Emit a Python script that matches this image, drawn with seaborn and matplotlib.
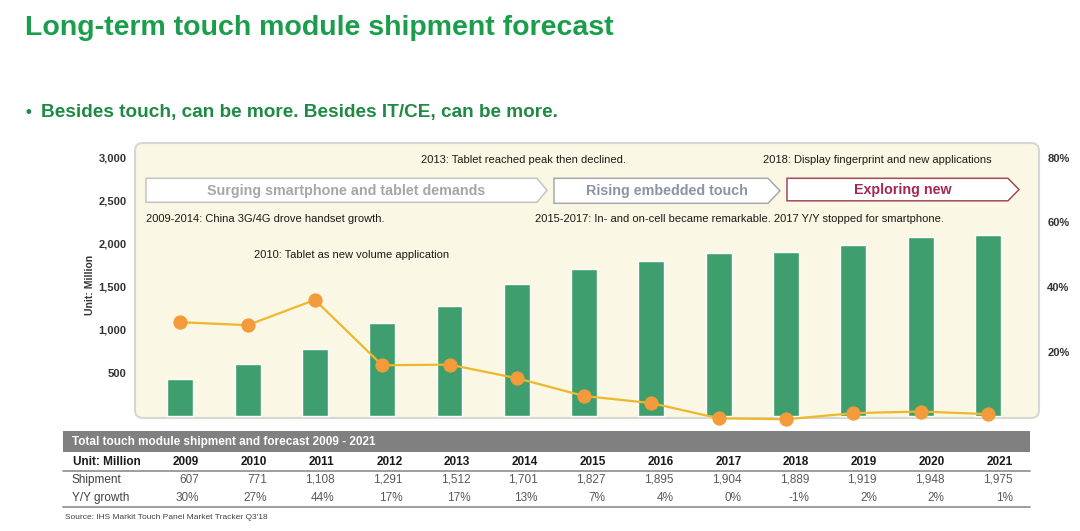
import matplotlib
matplotlib.use("Agg")
import matplotlib.pyplot as plt
from matplotlib.patches import FancyBboxPatch, Polygon, Rectangle
import seaborn as sns

sns.set_style("white")
plt.rcParams['font.family'] = ['Liberation Sans', 'DejaVu Sans']

# data
years = ['2009', '2010', '2011', '2012', '2013', '2014', '2015',
         '2016', '2017', '2018', '2019', '2020', '2021']
bar_values = [430, 601, 776, 1085, 1276, 1535, 1709, 1799, 1895, 1907, 1988, 2085, 2108]
yoy_line = [29.1, 28.2, 36.0, 15.8, 16.0, 11.8, 6.3, 4.1, -0.6, -0.9, 1.0, 1.5, 0.7]
table_shipment = [607, 771, 1108, 1291, 1512, 1701, 1827, 1895, 1904, 1889, 1919, 1948, 1975]
table_yoy = ['30%', '27%', '44%', '17%', '17%', '13%', '7%', '4%', '0%', '-1%', '2%', '2%', '1%']
left_ticks = [500, 1000, 1500, 2000, 2500, 3000]
right_ticks = [20, 40, 60, 80]

W, H = 1080, 531
fig = plt.figure(figsize=(10.8, 5.31), dpi=100)

# background layer in pixel coordinates
bg = fig.add_axes([0, 0, 1, 1])
bg.set_xlim(0, W)
bg.set_ylim(H, 0)
bg.axis('off')


def frac(x0, y0, x1, y1):
    return [x0 / W, 1 - y1 / H, (x1 - x0) / W, (y1 - y0) / H]


# titles
bg.text(25, 28, 'Long-term touch module shipment forecast', fontsize=20.5,
        fontweight='bold', color='#1A9E4B', va='center')
bg.text(26, 112, '\u2022', fontsize=12, fontweight='bold', color='#1E8A44', va='center')
bg.text(40.8, 112, 'Besides touch, can be more. Besides IT/CE, can be more.',
        fontsize=13.7, fontweight='bold', color='#1E8A44', va='center')

# chart panel
bg.add_patch(FancyBboxPatch((135, 143), 1039 - 135, 418 - 143,
                            boxstyle="round,pad=0,rounding_size=8",
                            fc='#FAF8E4', ec='#D6D6D2', lw=1.5))

# chevron phase boxes
chevrons = [
    (146, 537, 547, 178.3, 202.3, '#C4C4C4', 'Surging smartphone and tablet demands', '#A6A6A6'),
    (554, 768, 780, 178.3, 203.3, '#A8A8B0', 'Rising embedded touch', '#8C93A3'),
    (787, 1008, 1019, 178.3, 200.8, '#A04A5A', 'Exploring new', '#A3294F'),
]
for x0, x1, tip, y0, y1, ec, label, tc in chevrons:
    ym = (y0 + y1) / 2
    bg.add_patch(Polygon([(x0, y0), (x1, y0), (tip, ym), (x1, y1), (x0, y1)],
                         closed=True, fc='white', ec=ec, lw=1.1))
    bg.text((x0 + tip) / 2, ym + 0.5, label, fontsize=10.3, fontweight='bold',
            color=tc, ha='center', va='center')

notes = [
    (420.7, 160, '2013: Tablet reached peak then declined.'),
    (763.3, 160, '2018: Display fingerprint and new applications'),
    (146, 219, '2009-2014: China 3G/4G drove handset growth.'),
    (535, 219, '2015-2017: In- and on-cell became remarkable. 2017 Y/Y stopped for smartphone.'),
    (254.3, 255, '2010: Tablet as new volume application'),
]
for x, y, t in notes:
    bg.text(x, y, t, fontsize=8, color='#1A1A1A', va='center')

# bars and growth line
ax = fig.add_axes(frac(135, 143, 1039, 418))
ax.set_zorder(2)
ax.patch.set_visible(False)
sns.barplot(x=years, y=bar_values, color='#3E9E6E', saturation=1, width=0.386, ax=ax)
ax.set_xlim(-0.673, 12.759)
ax.set_ylim(-23, 3171)
ax.set_xticks([])
ax.set_yticks(left_ticks)
ax.set_yticklabels([f'{v:,}' for v in left_ticks], fontsize=8, fontweight='bold', color='#333333')
ax.tick_params(axis='y', length=0, pad=6)
ax.set_ylabel('Unit: Million', fontsize=7.5, fontweight='bold', color='#333333')
ax.yaxis.set_label_coords(-0.044, 0.484)
for s in ax.spines.values():
    s.set_visible(False)

ax2 = ax.twinx()
ax2.set_zorder(3)
ax2.patch.set_visible(False)
sns.lineplot(x=years, y=yoy_line, ax=ax2, color='#EDB82A', lw=1.6, marker='o',
             markersize=9.5, markerfacecolor='#F39A3A', markeredgecolor='#F39A3A',
             clip_on=False)
ax2.set_xlim(-0.673, 12.759)
ax2.set_ylim(-0.5, 84.5)
ax2.set_yticks(right_ticks)
ax2.set_yticklabels([f'{v}%' for v in right_ticks], fontsize=8, fontweight='bold', color='#333333')
ax2.tick_params(axis='y', length=0, pad=6)
ax2.set_ylabel('')
ax2.set_xticks([])
for s in ax2.spines.values():
    s.set_visible(False)

# summary table
bg.add_patch(Rectangle((63, 431), 1030 - 63, 21, fc='#808080', ec='none'))
bg.text(72, 441.7, 'Total touch module shipment and forecast 2009 - 2021', fontsize=8.5,
        fontweight='bold', color='white', va='center')
bg.text(72.7, 461.7, 'Unit: Million', fontsize=8.5, fontweight='bold', color='#1A1A1A', va='center')
bg.text(72, 480, 'Shipment', fontsize=8.5, color='#404040', va='center')
bg.text(72, 498.3, 'Y/Y growth', fontsize=8.5, color='#404040', va='center')
for i, yr in enumerate(years):
    xr = 199 + i * 67.8
    bg.text(xr, 461.7, yr, fontsize=8.5, fontweight='bold', color='#1A1A1A', ha='right', va='center')
    bg.text(xr, 480, f'{table_shipment[i]:,}', fontsize=8.5, color='#595959', ha='right', va='center')
    bg.text(xr, 498.3, table_yoy[i], fontsize=8.5, color='#595959', ha='right', va='center')
bg.plot([63, 1030], [470.7, 470.7], color='#8C8C8C', lw=1.2)
bg.plot([63, 1030], [507.3, 507.3], color='#8C8C8C', lw=1.2)
bg.text(65, 517.3, "Source: IHS Markit Touch Panel Market Tracker Q3'18", fontsize=6,
        color='#404040', va='center')

fig.savefig('out.png', dpi=100)
